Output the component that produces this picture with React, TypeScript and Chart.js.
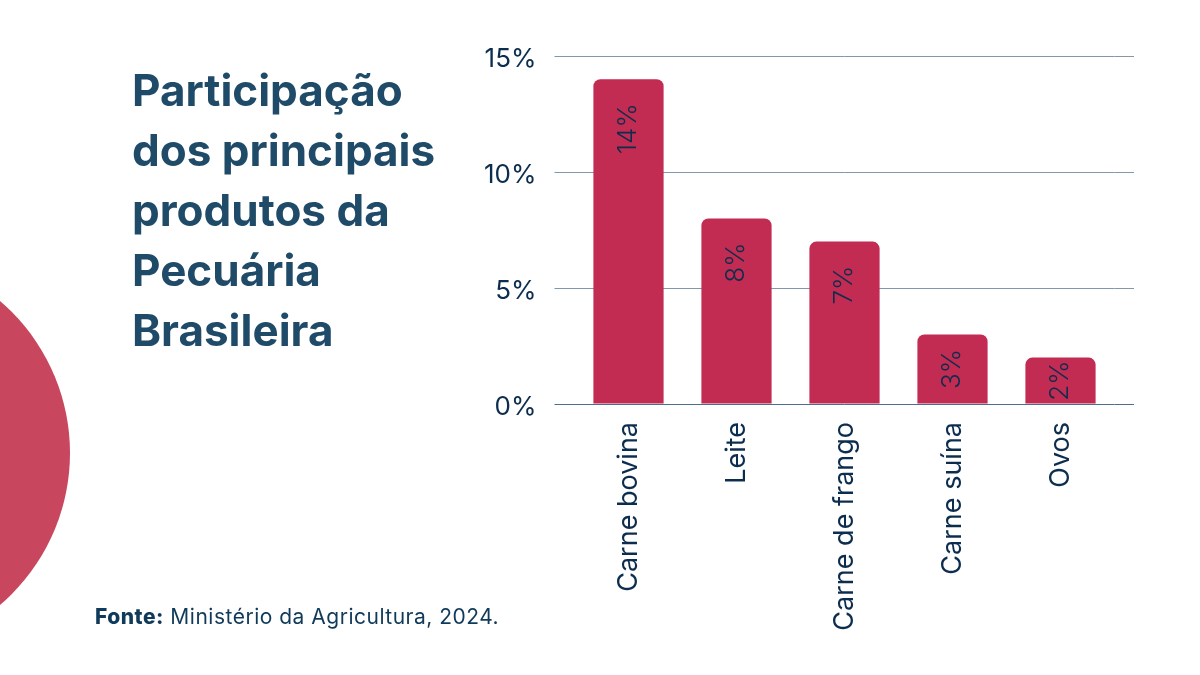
import React, { useEffect, useRef } from "react";
import { Chart, registerables } from "chart.js";

Chart.register(...registerables);

const categories = ["Carne bovina", "Leite", "Carne de frango", "Carne suína", "Ovos"];
const shares = [14, 8, 7, 3, 2];
const yTicks = [0, 5, 10, 15];

const NAVY = "#0c2d4e";
const BAR = "#c22b52";
const GRID = "#8397ab";
const BASE = "#4f6d8a";
const FONT = "Inter, 'DejaVu Sans', sans-serif";

const gridExtend = {
  id: "gridExtend",
  afterDatasetsDraw(chart: any) {
    const { ctx, chartArea, scales } = chart;
    const y = scales.y;
    ctx.save();
    ctx.lineWidth = 1;
    y.ticks.forEach((t: any) => {
      const py = Math.round(y.getPixelForValue(t.value)) + 0.5;
      ctx.strokeStyle = t.value === 0 ? BASE : GRID;
      ctx.beginPath();
      ctx.moveTo(chartArea.right, py);
      ctx.lineTo(chartArea.right + 19.5, py);
      ctx.stroke();
    });
    ctx.restore();
  },
};

const barLabels = {
  id: "barLabels",
  afterDatasetsDraw(chart: any) {
    const { ctx } = chart;
    const meta = chart.getDatasetMeta(0);
    ctx.save();
    ctx.font = `300 26px ${FONT}`;
    ctx.fillStyle = NAVY;
    ctx.textAlign = "center";
    ctx.textBaseline = "middle";
    meta.data.forEach((el: any, i: number) => {
      const text = `${shares[i]}%`;
      const w = ctx.measureText(text).width;
      const h = el.base - el.y;
      const off = Math.min(24 + w / 2, h / 2);
      ctx.save();
      ctx.translate(el.x, el.y + off);
      ctx.rotate(-Math.PI / 2);
      ctx.fillText(text, 0, 0);
      ctx.restore();
    });
    ctx.restore();
  },
};

function ChartCanvas() {
  const ref = useRef<HTMLCanvasElement | null>(null);
  useEffect(() => {
    if (!ref.current) return;
    const chart = new Chart(ref.current, {
      type: "bar",
      data: {
        labels: categories,
        datasets: [
          {
            data: shares,
            backgroundColor: BAR,
            borderRadius: 7,
            borderSkipped: "start",
            barPercentage: 0.65,
            categoryPercentage: 1,
          },
        ],
      },
      options: {
        animation: false,
        responsive: false,
        devicePixelRatio: 1,
        layout: { padding: { left: 474.5, right: 85.5, top: 56, bottom: 0 } },
        plugins: { legend: { display: false }, tooltip: { enabled: false } },
        scales: {
          x: {
            grid: { display: false, drawTicks: false },
            border: { display: false },
            ticks: {
              color: NAVY,
              font: { family: FONT, size: 27 },
              minRotation: 90,
              maxRotation: 90,
              padding: 18,
              autoSkip: false,
            },
            afterFit: (s: any) => {
              s.height = 271;
            },
          },
          y: {
            min: 0,
            max: 15,
            afterBuildTicks: (s: any) => {
              s.ticks = yTicks.map((v) => ({ value: v }));
            },
            border: { display: false },
            grid: {
              color: (c: any) => (c.tick && c.tick.value === 0 ? BASE : GRID),
              drawTicks: true,
              tickLength: 20,
            },
            ticks: {
              color: NAVY,
              font: { family: FONT, size: 26 },
              padding: 18,
              labelOffset: 3,
              callback: (v: any) => `${v}%`,
            },
            afterFit: (s: any) => {
              s.width = 100;
            },
          },
        },
      },
      plugins: [gridExtend, barLabels],
    });
    return () => chart.destroy();
  }, []);
  return (
    <canvas
      ref={ref}
      width={1200}
      height={675}
      style={{ position: "absolute", left: 0, top: 0, width: 1200, height: 675 }}
    />
  );
}

export default function App() {
  return (
    <div
      style={{
        position: "fixed",
        left: 0,
        top: 0,
        width: 1200,
        height: 675,
        background: "#ffffff",
        overflow: "hidden",
        fontFamily: FONT,
      }}
    >
      <div
        style={{
          position: "absolute",
          left: -330,
          top: 253,
          width: 400,
          height: 400,
          borderRadius: "50%",
          background: "#c9465f",
        }}
      />
      <ChartCanvas />
      <div
        style={{
          position: "absolute",
          left: 132,
          top: 60,
          fontSize: 44,
          lineHeight: "60px",
          fontWeight: 700,
          color: "#1f4b69",
        }}
      >
        Participação
        <br />
        dos principais
        <br />
        produtos da
        <br />
        Pecuária
        <br />
        Brasileira
      </div>
      <div
        style={{
          position: "absolute",
          left: 95,
          top: 605,
          fontSize: 21,
          lineHeight: "24px",
          letterSpacing: "0.5px",
          color: "#0f3a5a",
          whiteSpace: "nowrap",
        }}
      >
        <span style={{ fontWeight: 800 }}>Fonte:</span> Ministério da Agricultura, 2024.
      </div>
    </div>
  );
}
